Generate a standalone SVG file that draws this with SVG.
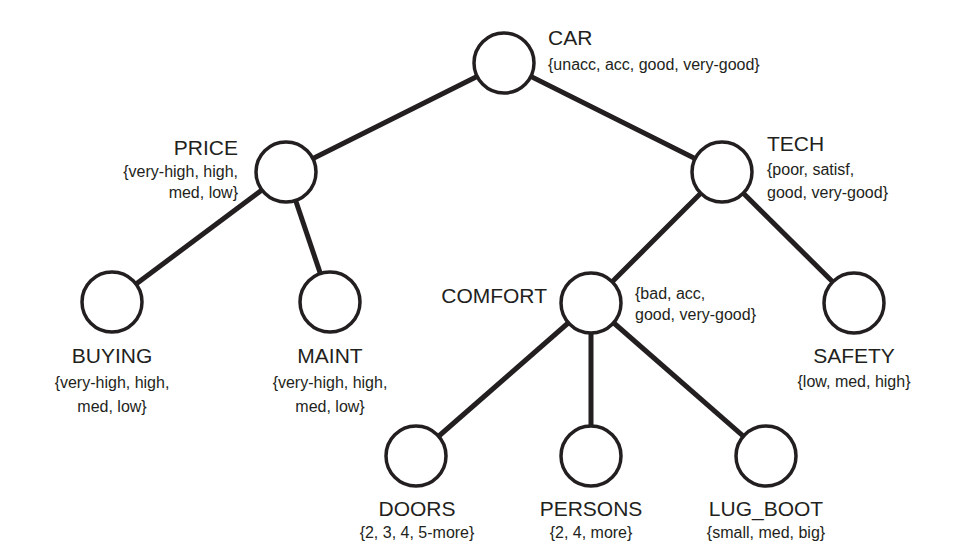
<svg xmlns="http://www.w3.org/2000/svg" width="966" height="560" viewBox="0 0 966 560">
<style>
.bg{fill:#ffffff}
.edge{stroke:#231f20;stroke-width:5;fill:none;stroke-linecap:butt}
.node{fill:#ffffff;stroke:#231f20;stroke-width:3.5}
.t{font-family:"Liberation Sans",Arial,sans-serif;font-size:21px;fill:#231f20}
.s{font-family:"Liberation Sans",Arial,sans-serif;font-size:16px;fill:#231f20}
.m{text-anchor:middle}
.e{text-anchor:end}
</style>
<rect class="bg" x="0" y="0" width="966" height="560"/>
<g id="connectors">
<line class="edge" x1="504" y1="63" x2="286" y2="172"/>
<line class="edge" x1="504" y1="63" x2="722" y2="172"/>
<line class="edge" x1="286" y1="172" x2="112" y2="302"/>
<line class="edge" x1="286" y1="172" x2="330" y2="302"/>
<line class="edge" x1="722" y1="172" x2="591" y2="303"/>
<line class="edge" x1="722" y1="172" x2="854" y2="303"/>
<line class="edge" x1="591" y1="303" x2="416" y2="456"/>
<line class="edge" x1="591" y1="303" x2="591" y2="456"/>
<line class="edge" x1="591" y1="303" x2="766" y2="456"/>
</g>
<g id="car">
<circle class="node" cx="504" cy="63" r="30"/>
<text class="t" x="548" y="45">CAR</text>
<text class="s" x="548" y="70">{unacc, acc, good, very-good}</text>
</g>
<g id="price">
<circle class="node" cx="286" cy="172" r="30"/>
<text class="t e" x="238" y="155">PRICE</text>
<text class="s e" x="238" y="177">{very-high, high,</text>
<text class="s e" x="238" y="198">med, low}</text>
</g>
<g id="tech">
<circle class="node" cx="722" cy="172" r="30"/>
<text class="t" x="767" y="151">TECH</text>
<text class="s" x="767" y="175">{poor, satisf,</text>
<text class="s" x="767" y="198">good, very-good}</text>
</g>
<g id="buying">
<circle class="node" cx="112" cy="302" r="30"/>
<text class="t m" x="112" y="363">BUYING</text>
<text class="s m" x="112" y="388">{very-high, high,</text>
<text class="s m" x="112" y="412">med, low}</text>
</g>
<g id="maint">
<circle class="node" cx="330" cy="302" r="30"/>
<text class="t m" x="330" y="363">MAINT</text>
<text class="s m" x="330" y="388">{very-high, high,</text>
<text class="s m" x="330" y="412">med, low}</text>
</g>
<g id="comfort">
<circle class="node" cx="591" cy="303" r="30"/>
<text class="t e" x="547" y="303">COMFORT</text>
<text class="s" x="635" y="299">{bad, acc,</text>
<text class="s" x="635" y="320">good, very-good}</text>
</g>
<g id="safety">
<circle class="node" cx="854" cy="303" r="30"/>
<text class="t m" x="854" y="363">SAFETY</text>
<text class="s m" x="854" y="387">{low, med, high}</text>
</g>
<g id="doors">
<circle class="node" cx="416" cy="456" r="30"/>
<text class="t m" x="417" y="516">DOORS</text>
<text class="s m" x="417" y="538">{2, 3, 4, 5-more}</text>
</g>
<g id="persons">
<circle class="node" cx="591" cy="456" r="30"/>
<text class="t m" x="591" y="516">PERSONS</text>
<text class="s m" x="591" y="538">{2, 4, more}</text>
</g>
<g id="lug_boot">
<circle class="node" cx="766" cy="456" r="30"/>
<text class="t m" x="766" y="516">LUG_BOOT</text>
<text class="s m" x="766" y="538">{small, med, big}</text>
</g>
</svg>
